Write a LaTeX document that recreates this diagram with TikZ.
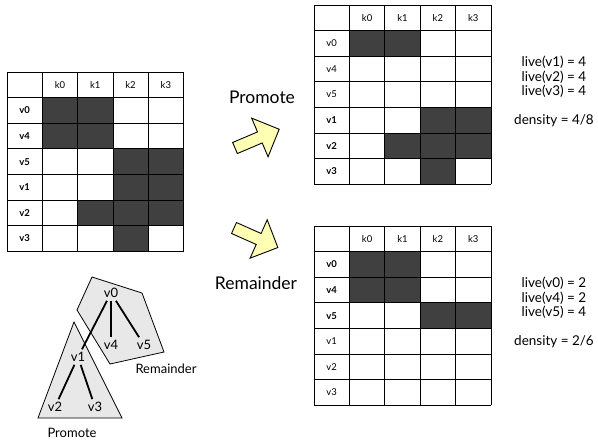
\documentclass[tikz,border=0pt]{standalone}
\usepackage{fontspec}
\setmainfont{Lato}
\usepackage{tikz}
\usetikzlibrary{positioning}
\definecolor{cellgray}{RGB}{64,64,64}
\definecolor{arrowyellow}{RGB}{255,255,180}
\definecolor{groupgray}{RGB}{232,232,232}

\begin{document}
\begin{tikzpicture}[x=1pt,y=-1pt,
    cell/.style={fill=cellgray},
    gridline/.style={draw=black, line width=0.8pt},
    lbl/.style={inner sep=0pt, font=\fontsize{9.5}{10}\selectfont},
    blbl/.style={inner sep=0pt, font=\fontsize{9.5}{10}\selectfont\bfseries},
    bigarrow/.style={fill=arrowyellow, draw=black, line width=0.9pt},
    groupbox/.style={fill=groupgray, draw=black, line width=0.8pt},
    treenode/.style={inner sep=2pt, font=\fontsize{13}{15}\selectfont},
    treeedge/.style={line width=1.8pt, shorten <=1pt, shorten >=1pt},
    steplabel/.style={font=\fontsize{17.5}{20}\selectfont},
    infotext/.style={align=center, font=\fontsize{13.5}{14.5}\selectfont}]
  \useasboundingbox (0,0) rectangle (598,440);

  % matrix: all rows
  \begin{scope}[shift={(7,72)}, x=35.3pt, y=-25.6pt]
    \fill[cell] (1,1) rectangle (3,3);
    \fill[cell] (3,3) rectangle (5,6);
    \fill[cell] (2,5) rectangle (3,6);
    \fill[cell] (3,6) rectangle (4,7);
    \foreach \c in {0,...,5} \draw[gridline] (\c,0) -- (\c,7);
    \foreach \r in {0,...,7} \draw[gridline] (0,\r) -- (5,\r);
    \foreach \k [count=\i] in {k0,k1,k2,k3}
      \node[lbl] (A-\k) at (\i+0.5,0.5) {\k};
    \foreach \v [count=\j] in {v0,v4,v5,v1,v2,v3}
      \node[blbl] (A-\v) at (0.5,\j+0.5) {\v};
  \end{scope}

  % matrix: promoted rows
  \begin{scope}[shift={(314,5)}, x=35.4pt, y=-25.6pt]
    \fill[cell] (1,1) rectangle (3,2);
    \fill[cell] (3,4) rectangle (5,6);
    \fill[cell] (2,5) rectangle (3,6);
    \fill[cell] (3,6) rectangle (4,7);
    \foreach \c in {0,...,5} \draw[gridline] (\c,0) -- (\c,7);
    \foreach \r in {0,...,7} \draw[gridline] (0,\r) -- (5,\r);
    \foreach \k [count=\i] in {k0,k1,k2,k3}
      \node[lbl] (P-\k) at (\i+0.5,0.5) {\k};
    \foreach \v [count=\j] in {v0,v4,v5}
      \node[lbl] (P-\v) at (0.5,\j+0.5) {\v};
    \foreach \v [count=\j from 4] in {v1,v2,v3}
      \node[blbl] (P-\v) at (0.5,\j+0.5) {\v};
  \end{scope}

  % matrix: remainder rows
  \begin{scope}[shift={(314,226)}, x=35.4pt, y=-25.6pt]
    \fill[cell] (1,1) rectangle (3,3);
    \fill[cell] (3,3) rectangle (5,4);
    \foreach \c in {0,...,5} \draw[gridline] (\c,0) -- (\c,7);
    \foreach \r in {0,...,7} \draw[gridline] (0,\r) -- (5,\r);
    \foreach \k [count=\i] in {k0,k1,k2,k3}
      \node[lbl] (R-\k) at (\i+0.5,0.5) {\k};
    \foreach \v [count=\j] in {v0,v4,v5}
      \node[blbl] (R-\v) at (0.5,\j+0.5) {\v};
    \foreach \v [count=\j from 4] in {v1,v2,v3}
      \node[lbl] (R-\v) at (0.5,\j+0.5) {\v};
  \end{scope}

  % step arrows
  \node[steplabel] (promTitle) at (262,97) {Promote};
  \draw[bigarrow, shift={(235,148)}, rotate=23]
    (0,-6) -- (27,-6) -- (27,-21) -- (48,0) -- (27,21) -- (27,6) -- (0,6) -- cycle;
  \draw[bigarrow, shift={(234,228)}, rotate=-24]
    (0,-6) -- (27,-6) -- (27,-21) -- (48,0) -- (27,21) -- (27,6) -- (0,6) -- cycle;
  \node[steplabel] (remTitle) at (256,283) {Remainder};

  % live counts
  \node[infotext] (promInfo) at (554,91.5)
    {live(v1) = 4\\live(v2) = 4\\live(v3) = 4\\[14.5pt]density = 4/8};
  \node[infotext] (remInfo) at (554,312.5)
    {live(v0) = 2\\live(v4) = 2\\live(v5) = 4\\[14.5pt]density = 2/6};

  % tree
  \filldraw[groupbox] (92,277) -- (142,293) -- (164,352) -- (110,364) -- (77,310) -- cycle;
  \filldraw[groupbox] (74,322) -- (122,418) -- (38,418) -- cycle;
  \node[treenode] (v0) at (111,293) {v0};
  \node[treenode] (v4) at (111,345) {v4};
  \node[treenode] (v5) at (144,345) {v5};
  \node[treenode] (v1) at (78,357) {v1};
  \node[treenode] (v2) at (55,407) {v2};
  \node[treenode] (v3) at (95,407) {v3};
  \draw[treeedge] (v0) -- (v1);
  \draw[treeedge] (v0) -- (v4);
  \draw[treeedge] (v0) -- (v5);
  \draw[treeedge] (v1) -- (v2);
  \draw[treeedge] (v1) -- (v3);
  \node[treenode] (remLabel) at (166,369) {Remainder};
  \node[treenode] (promLabel) at (72,433) {Promote};
\end{tikzpicture}
\end{document}
